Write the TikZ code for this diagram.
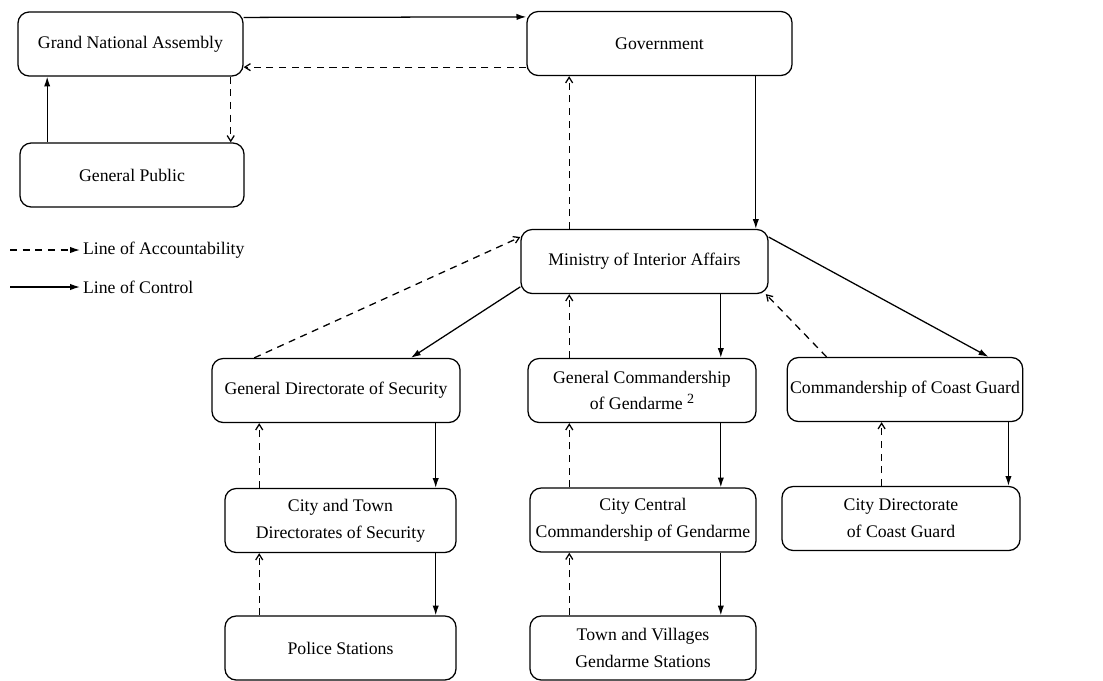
\documentclass[tikz,border=0pt]{standalone}
\usepackage{fontspec}
\setmainfont{Liberation Serif}
\usetikzlibrary{arrows.meta}
\tikzset{
  box/.style={draw, rounded corners=8pt, line width=0.9pt, minimum height=1.6cm, align=center, inner sep=2pt, font=\fontsize{12.6}{19}\selectfont},
  legend/.style={anchor=west, inner sep=2pt, font=\fontsize{12.6}{19}\selectfont},
  ctrl/.style={draw, line width=0.9pt, -{Latex[length=7pt,width=4.5pt]}},
  acct/.style={draw, line width=0.9pt, dash pattern=on 5pt off 4pt, -{Straight Barb[length=4pt,width=5pt]}},
}
\newcommand{\footmark}[1]{\raisebox{0.8ex}{\fontsize{10}{10}\selectfont #1}}
\begin{document}
\begin{tikzpicture}[x=0.025cm,y=-0.025cm]
    \useasboundingbox (0,0) rectangle (1103,680);
    \node[box,minimum width=5.625cm] (gna) at (130.5,44) {Grand National Assembly};
    \node[box,minimum width=5.6cm] (pub) at (132,175) {General Public};
    \node[box,minimum width=6.625cm] (gov) at (659.5,43.5) {Government};
    \node[box,minimum width=6.175cm] (mia) at (644.5,261.5) {Ministry of Interior Affairs};
    \node[box,minimum width=6.2cm] (gds) at (336,390.5) {General Directorate of Security};
    \node[box,minimum width=5.7cm] (gcg) at (642,390.5) {General Commandership\\of Gendarme \footmark{2}};
    \node[box,minimum width=5.75cm] (ccg) at (905,389.5) {Commandership of Coast Guard};
    \node[box,minimum width=5.775cm] (cts) at (340.5,520.5) {City and Town\\Directorates of Security};
    \node[box,minimum width=5.65cm] (ccc) at (643,520) {City Central\\Commandership of Gendarme};
    \node[box,minimum width=5.95cm] (cdc) at (901,518.5) {City Directorate\\of Coast Guard};
    \node[box,minimum width=5.775cm] (pol) at (340.5,648) {Police Stations};
    \node[box,minimum width=5.65cm] (tvg) at (643,648) {Town and Villages\\Gendarme Stations};
    \node[legend] (lacc) at (80,250) {Line of Accountability};
    \node[legend] (lctl) at (80,287) {Line of Control};
    \coordinate (acc0) at (10,250);
    \coordinate (ctl0) at (10,287);
    \draw[acct,-{Latex[length=7pt,width=4.5pt]}] (acc0) -- (lacc.west);
    \draw[ctrl] (ctl0) -- (lctl.west);
    \draw[ctrl] ([yshift=-4.3pt]gna.north east) -- ([yshift=-4.3pt]gov.north west);
    \draw[acct] ([yshift=6.4pt]gov.south west) -- ([yshift=6.4pt]gov.south west -| gna.east);
    \draw[ctrl] ([xshift=19.8pt]pub.north west) -- ([xshift=19.8pt]pub.north west |- gna.south);
    \draw[acct] ([xshift=-9.2pt]gna.south east) -- ([xshift=-9.2pt]gna.south east |- pub.north);
    \draw[ctrl] ([xshift=-26.2pt]gov.south east) -- ([xshift=-26.2pt]gov.south east |- mia.north);
    \draw[acct] ([xshift=34.7pt]mia.north west) -- ([xshift=34.7pt]mia.north west |- gov.south);
    \draw[acct] ([xshift=30.5pt]gds.north west) -- ([yshift=17.4pt]mia.west);
    \draw[ctrl] ([yshift=-18pt]mia.west) -- ([xshift=-35.4pt]gds.north east);
    \draw[acct] ([xshift=29.8pt]gcg.north west) -- ([xshift=29.8pt]gcg.north west |- mia.south);
    \draw[ctrl] ([xshift=-25.5pt]gcg.north east |- mia.south) -- ([xshift=-25.5pt]gcg.north east);
    \draw[acct] ([xshift=28.4pt]ccg.north west) -- ([xshift=-2pt]mia.south east);
    \draw[ctrl] ([yshift=17.4pt]mia.east) -- ([xshift=-24.8pt]ccg.north east);
    \draw[acct] ([xshift=24.8pt]cts.north west) -- ([xshift=24.8pt]cts.north west |- gds.south);
    \draw[ctrl] ([xshift=-14.9pt]cts.north east |- gds.south) -- ([xshift=-14.9pt]cts.north east);
    \draw[acct] ([xshift=24.8pt]pol.north west) -- ([xshift=24.8pt]pol.north west |- cts.south);
    \draw[ctrl] ([xshift=-14.9pt]cts.south east) -- ([xshift=-14.9pt]cts.south east |- pol.north);
    \draw[acct] ([xshift=28.4pt]ccc.north west) -- ([xshift=28.4pt]ccc.north west |- gcg.south);
    \draw[ctrl] ([xshift=-25.5pt]gcg.south east) -- ([xshift=-25.5pt]gcg.south east |- ccc.north);
    \draw[acct] ([xshift=28.4pt]tvg.north west) -- ([xshift=28.4pt]tvg.north west |- ccc.south);
    \draw[ctrl] ([xshift=-25.5pt]ccc.south east) -- ([xshift=-25.5pt]ccc.south east |- tvg.north);
    \draw[acct] ([xshift=71.3pt]cdc.north west) -- ([xshift=71.3pt]cdc.north west |- ccg.south);
    \draw[ctrl] ([xshift=-10.6pt]ccg.south east) -- ([xshift=-10.6pt]ccg.south east |- cdc.north);
\end{tikzpicture}
\end{document}
